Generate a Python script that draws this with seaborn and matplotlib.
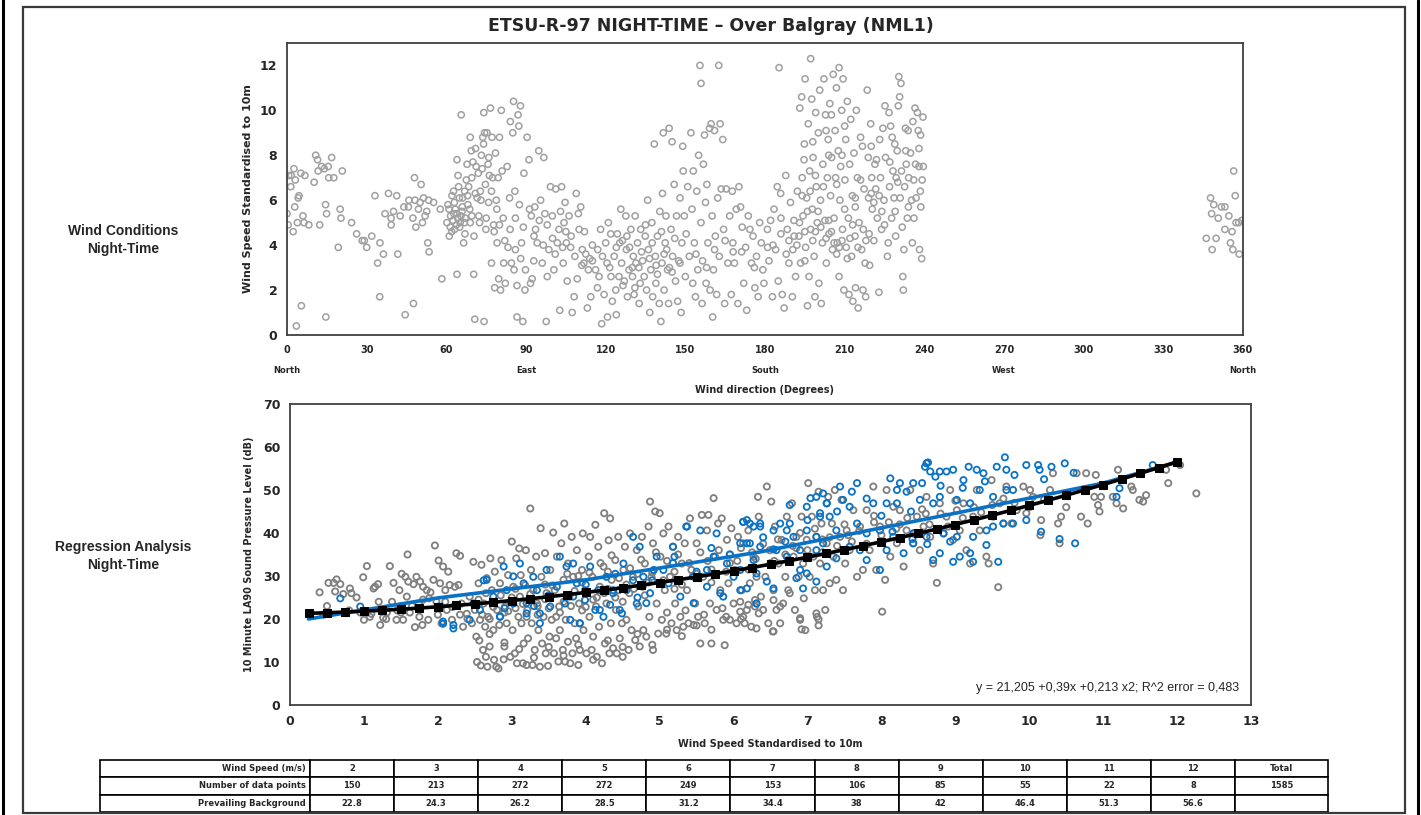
import numpy as np
import pandas as pd
import seaborn as sns
import matplotlib
matplotlib.use("Agg")
import matplotlib.pyplot as plt
from matplotlib.patches import Rectangle
from matplotlib.lines import Line2D

# ---- top chart: wind direction (deg) vs wind speed (m/s)
wc_north = [(0, 5.4), (0.4, 4.9), (0.6, 7.1), (1.6, 7.1), (1.4, 6.6), (2.3, 4.6), (2.6, 7.4), (3.1, 6.9),
            (2.9, 5.7), (3.5, 0.4), (3.9, 5.0), (4.5, 6.2), (4.2, 6.1), (5.2, 7.2), (5.4, 1.3), (6.0, 5.3),
            (6.7, 7.1), (6.4, 5.0), (8.2, 4.9), (10.2, 6.8), (10.8, 8.0), (11.5, 7.8), (11.7, 7.3), (12.3, 4.9),
            (13, 7.5), (14, 7.4), (14.5, 5.8), (14.9, 5.4), (14.6, 0.8), (15.5, 7.5), (15.7, 7.0), (16.8, 7.9),
            (17.6, 7.0), (19.3, 3.9), (20, 5.6), (20.3, 5.2), (20.8, 7.3), (24.3, 5.0), (26.2, 4.5), (28.3, 4.2),
            (29.1, 4.2), (30, 3.9), (31.9, 4.4), (33.1, 6.2), (34.1, 3.2), (34.9, 1.7), (35, 4.1), (36.3, 3.6),
            (36.9, 5.4), (38.2, 6.3), (39.2, 5.2), (39.2, 4.9), (40.1, 5.5), (41.3, 6.2), (41.7, 3.6), (42.6, 5.3),
            (44.5, 0.9), (44, 5.7), (45.7, 5.7), (45.9, 6.0), (47.6, 1.4), (47.4, 5.2), (48, 7.0), (48.2, 6.0),
            (48.5, 4.8), (49.5, 5.6), (50.1, 5.9), (50.5, 6.7), (51, 5.0), (51.4, 6.1), (52, 5.3), (52.6, 5.5),
            (53.3, 6.0), (53, 4.1), (53.5, 3.7), (55.2, 5.9), (57.7, 5.6), (58.3, 2.5)]
wc_east = [(60.2, 5.0), (60.6, 5.8), (61.1, 4.4), (61.6, 5.3), (62.1, 6.2), (62.7, 6.4), (63.1, 4.7), (63.4, 5.6),
           (64, 2.7), (64, 7.8), (64.4, 7.1), (64.6, 6.6), (64.9, 6.1), (65.2, 5.0), (65.6, 9.8), (65.9, 5.5),
           (66.1, 6.1), (66.5, 4.1), (66.9, 6.4), (67.1, 5.2), (67.8, 7.6), (68.1, 5.8), (68.4, 6.6), (69, 8.8),
           (69.4, 8.2), (69.6, 7.0), (69.6, 5.3), (70.3, 2.7), (70.4, 4.4), (70.7, 0.7), (71.2, 7.5), (71.6, 6.1),
           (72.2, 5.3), (72.8, 6.4), (73.2, 8.0), (73.7, 8.8), (74.1, 9.9), (74.2, 0.6), (74.4, 9.0), (74.7, 6.7),
           (74.9, 4.7), (75.3, 9.0), (75.7, 7.6), (75.9, 5.9), (76.6, 10.1), (77, 3.2), (77.2, 8.8), (77.4, 7.0),
           (77.8, 4.9), (78.2, 2.1), (78.5, 8.1), (78.8, 6.0), (79.1, 4.1), (79.7, 2.5), (80, 8.8), (80.4, 2.0),
           (80.7, 10.0), (81, 7.3), (81.4, 5.2), (81.6, 3.2), (82.2, 2.3), (82.9, 7.5), (83.2, 3.9), (83.8, 6.1),
           (84.1, 9.5), (84.5, 3.2), (85, 9.0), (85.3, 10.4), (85.5, 2.9), (85.8, 6.4), (86, 3.8), (86.6, 2.2),
           (86.6, 0.8), (87, 9.8), (87.3, 9.3), (87.5, 5.8), (87.9, 10.2), (88.3, 4.1), (88.8, 0.6), (89.2, 7.2),
           (89.6, 2.0), (89.8, 2.9), (61.5, 4.8), (62.5, 5.1), (63.8, 4.9), (65.5, 5.3), (66.8, 5.0), (68.8, 5.6),
           (62.8, 5.4), (64.3, 5.2), (67.5, 6.9), (70.9, 6.3), (72.5, 5.0), (73.5, 7.4), (76.2, 7.1), (79.5, 7.0),
           (61.0, 5.6), (62.0, 4.6), (63.0, 5.9), (64.0, 5.4), (65.0, 4.8), (66.0, 5.7), (67.0, 4.5), (68.0, 6.2),
           (69.0, 5.0), (70.0, 7.7), (71.0, 8.3), (72.0, 7.2), (73.0, 6.0), (74.0, 8.5), (75.0, 5.2), (76.0, 7.9),
           (77.0, 6.4), (78.0, 4.6), (79.0, 5.6), (80.0, 4.9), (82.0, 4.2), (84.0, 4.7), (86.0, 5.2), (88.0, 3.4),
           (89.0, 4.8)]
wc_southeast = [(90.4, 8.8), (91.1, 7.8), (91.3, 5.6), (91.7, 2.3), (92.3, 2.5), (92.9, 3.3), (93.3, 5.7),
                (93.6, 4.7), (94.2, 4.1), (94.8, 8.2), (95.5, 6.0), (96.1, 3.2), (96.7, 7.9), (97.1, 5.4),
                (97.6, 0.6), (98, 2.6), (98.6, 3.8), (99.2, 6.6), (99.9, 5.3), (100.5, 2.9), (101.2, 6.5),
                (101.8, 4.1), (102.4, 4.7), (102.7, 1.1), (103, 5.5), (103.4, 6.6), (104, 3.2), (104.3, 5.0),
                (104.7, 5.9), (105.2, 4.1), (105.5, 2.4), (106.2, 5.3), (106.8, 3.9), (107.4, 1.0), (108.1, 1.7),
                (108.4, 3.5), (108.9, 6.3), (109.3, 2.5), (109.7, 5.4), (110, 4.7), (110.6, 5.7), (111.2, 3.8),
                (111.8, 3.2), (112.5, 3.6), (113.1, 1.2), (113.5, 2.9), (114.4, 1.7), (115, 3.3), (116.2, 2.9),
                (116.9, 2.1), (117.5, 2.6), (118.1, 4.7), (118.5, 0.5), (118.8, 3.5), (119.4, 1.8), (120, 4.1),
                (120.7, 0.8), (121, 5.0), (121.5, 3.0), (121.9, 4.5), (122.5, 1.5), (123.2, 3.5), (123.8, 2.0),
                (124, 0.9), (124.4, 4.5), (125, 2.6), (125.7, 5.6), (126, 3.2), (126.3, 4.2), (127, 2.4),
                (127.6, 5.3), (127.8, 3.8), (128.2, 1.7), (128.8, 2.9), (129.5, 4.7), (130.1, 2.6), (130.4, 3.5),
                (130.7, 1.8), (131.1, 5.3), (131.4, 3.2), (132, 4.1), (132.6, 1.4), (133, 2.3), (133.2, 4.7),
                (133.9, 3.3), (134.5, 2.6), (134.9, 4.4), (135.4, 2.0), (135.8, 6.0), (136.1, 3.8), (136.6, 1.0),
                (137, 2.9), (137.4, 5.0), (137.7, 1.7), (138.3, 8.5), (138.7, 3.5), (138.9, 2.3), (139.5, 4.4),
                (140.2, 1.4), (140.4, 5.5), (140.8, 0.6), (141.2, 3.2), (141.4, 6.3), (141.7, 9.0), (142, 2.0),
                (142.4, 4.1), (142.7, 5.3), (143.3, 2.9), (143.7, 1.4), (143.9, 9.2), (144.6, 4.7), (145, 8.6),
                (145.2, 3.5), (145.8, 6.7), (146.3, 2.4), (146.7, 5.3), (147.1, 1.5), (147.5, 3.3), (148, 6.1),
                (148.4, 1.0), (148.7, 4.1), (149, 8.4), (149.2, 7.3), (149.6, 5.3), (93.0, 4.4), (96.5, 4.0),
                (100.0, 4.3), (103.8, 3.9), (107.0, 4.4), (111.0, 3.1), (114.0, 3.4), (125.3, 4.1), (129.0, 3.9),
                (132.5, 3.0), (136.5, 3.4), (139.0, 3.1), (142.0, 3.6), (144.0, 3.0), (120.5, 3.2), (122, 2.6),
                (124, 3.9), (126.5, 2.2), (128, 4.4), (130, 3.0), (131, 2.1), (133.5, 3.7), (135, 4.9),
                (137.5, 4.1), (139.5, 2.7), (141, 4.6), (143, 3.8), (145, 2.8), (146, 4.3), (148, 3.2), (112, 4.6),
                (115, 4.0), (117, 3.8), (105, 4.6), (101, 3.6), (98, 4.9), (95, 5.1), (92, 5.3)]
wc_south = [(150, 2.6), (150.3, 4.5), (150.9, 6.6), (151.5, 3.5), (152.1, 9.0), (152.5, 5.6), (152.8, 2.3),
            (153, 7.3), (153.4, 4.1), (153.8, 1.7), (154.3, 6.4), (154.7, 2.9), (155, 8.0), (155.5, 12.0),
            (155.9, 11.2), (155.9, 5.0), (156.3, 1.4), (156.5, 3.3), (156.8, 7.6), (157.2, 8.9), (157.6, 5.9),
            (157.8, 2.3), (158.1, 6.7), (158.5, 4.1), (159.1, 9.2), (159.3, 2.0), (159.7, 9.4), (160.1, 5.3),
            (160.3, 0.8), (160.6, 2.9), (161, 9.1), (161.3, 4.4), (161.8, 1.8), (162.2, 6.1), (162.6, 12.0),
            (162.8, 3.5), (163.1, 9.4), (163.5, 6.5), (164.1, 8.7), (164.4, 4.7), (164.8, 1.4), (165.4, 6.5),
            (166, 3.2), (166.7, 5.3), (167.3, 1.8), (167.7, 6.4), (167.9, 4.1), (168.5, 3.2), (169.2, 5.6),
            (169.8, 1.4), (170.2, 6.6), (170.8, 5.7), (171.4, 4.8), (171.2, 3.7), (172.7, 3.9), (172, 2.3),
            (173.1, 1.1), (173.7, 5.3), (174.3, 4.7), (174.9, 3.2), (175.5, 4.4), (176.2, 2.1), (176.8, 3.5),
            (177.4, 1.7), (178, 5.0), (178.6, 4.1), (179.2, 2.9), (179.6, 2.3), (180.9, 4.7), (181.5, 3.3),
            (182.1, 5.1), (182.8, 1.7), (183.4, 5.6), (184, 3.8), (184.6, 6.6), (185, 2.4), (185.3, 11.9),
            (185.9, 6.3), (186.5, 1.8), (187.2, 1.2), (187.8, 7.1), (188.4, 4.7), (189, 3.2), (189.6, 5.9),
            (154.0, 3.6), (158.0, 3.0), (161.0, 3.8), (165.0, 4.2), (168.0, 3.7), (176.0, 3.0), (181.0, 3.9),
            (186.0, 4.5), (188.0, 3.6), (189.0, 4.2), (186.0, 5.2), (183.0, 4.0)]
wc_southwest = [(190.3, 1.7), (190.5, 3.8), (190.9, 5.1), (191.5, 2.6), (192.2, 6.4), (192.8, 4.4), (193.1, 10.1),
                (193.4, 3.2), (193.8, 10.6), (194, 7.0), (194.3, 5.3), (194.7, 7.8), (194.8, 8.5), (195.1, 11.4),
                (195.3, 3.9), (195.7, 6.1), (196, 1.3), (196.3, 9.4), (196.6, 2.6), (196.8, 7.3), (197.2, 12.3),
                (197.2, 4.7), (197.6, 10.5), (197.8, 5.6), (198.1, 7.9), (198.5, 3.5), (198.8, 1.7), (199.1, 9.9),
                (199.3, 6.6), (199.7, 5.0), (200.1, 9.0), (200.3, 2.3), (200.6, 10.9), (200.9, 6.0), (201.2, 1.4),
                (201.6, 4.1), (201.8, 7.6), (202.2, 11.4), (202.6, 5.1), (202.8, 9.8), (203.1, 3.2), (203.5, 7.0),
                (203.8, 8.7), (204.1, 4.5), (204.4, 10.3), (204.7, 6.2), (205.1, 7.9), (205.4, 3.8), (205.7, 11.6),
                (206, 5.2), (206.4, 9.1), (206.6, 7.0), (206.9, 11.0), (207.2, 4.1), (207.6, 8.2), (207.9, 11.9),
                (207.9, 2.6), (208.2, 6.0), (208.5, 7.5), (208.9, 10.0), (209.2, 4.7), (209.4, 11.4), (209.7, 2.0),
                (210.1, 6.9), (210.4, 8.7), (210.6, 3.9), (211, 10.4), (211.4, 5.2), (211.6, 1.8), (211.9, 7.6),
                (212.3, 9.6), (212.6, 3.5), (212.9, 6.2), (213.1, 1.5), (213.5, 8.1), (213.9, 4.4), (214.1, 2.1),
                (214.4, 10.0), (214.8, 7.0), (215.1, 1.2), (215.4, 5.0), (216, 8.8), (216.4, 3.8), (216.7, 8.4),
                (216.9, 2.0), (217.3, 6.5), (217.7, 3.2), (217.9, 1.7), (218.5, 10.9), (218.9, 7.9), (219.2, 4.5),
                (219.4, 3.1), (219.8, 9.4), (220.2, 7.0), (220.4, 5.6), (221, 4.2), (221.4, 7.6), (221.7, 6.5),
                (222.3, 5.2), (222.9, 1.9), (223.2, 8.7), (223.5, 7.0), (223.9, 4.7), (224.4, 9.2), (224.8, 6.0),
                (225.2, 10.2), (225.4, 7.9), (226.1, 3.5), (226.4, 4.1), (226.7, 9.9), (226.9, 6.6), (227.3, 9.3),
                (227.7, 5.2), (227.9, 8.8), (228.2, 7.3), (228.6, 6.1), (228.9, 8.5), (229.2, 4.4), (229.4, 7.0),
                (229.8, 8.2), (230.2, 10.2), (230.4, 11.5), (230.7, 10.6), (230.9, 6.1), (231.2, 11.2), (231.4, 7.3),
                (231.7, 4.8), (231.9, 2.6), (232.1, 2.0), (232.3, 3.8), (232.6, 6.6), (232.9, 9.2), (233.2, 7.6),
                (233.6, 5.2), (233.9, 9.1), (234.1, 7.0), (234.8, 8.1), (235.2, 6.0), (235.5, 4.1), (235.7, 9.5),
                (236.1, 5.2), (236.5, 10.1), (236.7, 7.6), (236.9, 6.1), (237.4, 9.9), (237.7, 9.1), (238, 7.5),
                (238.2, 3.8), (238.5, 6.4), (238.6, 8.9), (238.7, 5.7), (239, 3.4), (239.2, 6.9), (239.5, 9.7),
                (239.6, 7.5), (192.0, 4.0), (195.0, 4.6), (198.0, 4.2), (201.0, 4.8), (203.0, 4.3), (205.0, 4.6),
                (207.0, 3.6), (209.0, 4.2), (211.0, 3.4), (213.0, 4.9), (215.0, 3.9), (218.0, 4.2), (220.0, 6.3),
                (224.0, 5.5), (196.0, 5.5), (199.0, 7.1), (204.0, 8.0), (209.0, 8.0), (214.0, 6.1), (191, 4.4),
                (193, 5.0), (195, 3.3), (197, 6.4), (199, 4.6), (200, 5.5), (202, 6.6), (204, 5.1), (205, 9.8),
                (206, 4.1), (207, 6.7), (208, 3.9), (210, 5.6), (212, 4.3), (214, 5.7), (216, 6.9), (217, 4.7),
                (219, 6.1), (221, 5.9), (222, 7.8), (223, 6.2), (225, 4.9), (227, 7.7), (229, 5.5), (230, 6.8),
                (233, 8.2), (234, 5.7), (236, 6.9), (238, 8.3), (220, 8.4), (210, 9.3), (203, 9.1), (198, 8.6),
                (194, 6.2)]
wc_north_west = [(346.2, 4.3), (347.8, 6.1), (348.2, 5.4), (348.4, 3.8), (349, 5.8), (349.9, 4.3), (350.7, 5.2),
                 (351.9, 5.7), (353.2, 5.7), (353.2, 4.7), (354.7, 5.3), (355.3, 4.1), (355.9, 4.6), (356.2, 3.8),
                 (356.5, 7.3), (357.1, 6.2), (357.4, 5.0), (358.4, 5.0), (358.6, 3.6), (359.6, 5.1)]

# ---- bottom chart: wind speed (m/s) vs LA90 (dB)
la90_grey_low = [(0.40, 26.2), (0.52, 28.4), (0.59, 28.4), (0.63, 29.2), (0.68, 28.1), (0.61, 26.4), (0.72, 25.8),
                 (0.81, 27.1), (0.83, 26.0), (0.99, 29.7), (1.04, 32.3), (1.00, 19.8), (1.08, 20.5), (1.13, 27.1),
                 (1.15, 27.5), (1.19, 28.1), (1.22, 18.6), (1.26, 20.3), (1.31, 21.5), (1.35, 32.3), (1.38, 24.0),
                 (1.40, 28.4), (1.44, 19.8), (1.48, 26.7), (1.49, 22.9), (1.51, 30.5), (1.53, 19.8), (1.56, 29.8),
                 (1.58, 25.2), (1.59, 35.0), (1.60, 28.7), (1.62, 21.5), (1.67, 28.1), (1.69, 18.1), (1.71, 29.8),
                 (1.74, 23.6), (1.76, 28.7), (1.79, 18.6), (1.80, 27.5), (1.85, 26.7), (1.87, 19.8), (1.88, 24.8),
                 (1.90, 26.2), (1.94, 29.1), (1.96, 37.1), (1.98, 24.0), (2.01, 33.6), (2.03, 28.3), (2.05, 19.0),
                 (2.07, 32.2), (2.10, 26.7), (2.12, 22.1), (2.14, 31.0), (2.16, 27.9), (2.19, 19.8), (2.23, 27.5),
                 (2.25, 35.3), (2.28, 27.9), (2.30, 34.7), (2.32, 23.6), (2.34, 18.2), (2.39, 21.2), (2.43, 25.2),
                 (2.46, 19.0), (2.48, 33.3), (0.45, 21.0), (0.80, 22.0), (1.10, 21.2), (1.45, 22.0), (1.75, 20.5),
                 (2.00, 21.0), (2.20, 22.8), (2.40, 20.0), (1.30, 20.0), (1.65, 23.0), (0.95, 21.5), (1.2, 24.0),
                 (1.5, 21.5), (1.8, 24.5), (2.1, 24.0), (2.3, 21.0), (0.9, 25.0), (0.5, 23.0)]
la90_grey_mid = [(2.50, 22.1), (2.52, 15.9), (2.53, 10.0), (2.55, 28.3), (2.56, 15.0), (2.57, 19.8), (2.58, 9.2),
                 (2.59, 32.6), (2.61, 12.8), (2.62, 23.6), (2.64, 18.2), (2.65, 11.2), (2.66, 29.5), (2.67, 8.9),
                 (2.68, 20.5), (2.70, 13.6), (2.71, 34.1), (2.73, 26.7), (2.75, 17.4), (2.76, 10.5), (2.77, 31.0),
                 (2.79, 8.9), (2.80, 22.1), (2.82, 8.5), (2.83, 18.6), (2.84, 28.3), (2.86, 33.7), (2.89, 10.6),
                 (2.90, 13.6), (2.91, 22.9), (2.93, 19.0), (2.95, 30.2), (2.98, 11.2), (2.98, 24.0), (3.00, 38.0),
                 (3.01, 17.4), (3.02, 27.5), (3.04, 12.0), (3.06, 34.1), (3.07, 9.7), (3.09, 20.5), (3.10, 36.4),
                 (3.11, 25.2), (3.12, 30.2), (3.13, 19.0), (3.15, 9.7), (3.16, 14.3), (3.18, 27.9), (3.19, 36.0),
                 (3.20, 9.3), (3.21, 22.1), (3.22, 15.5), (3.25, 45.7), (3.26, 31.4), (3.27, 19.0), (3.28, 9.3),
                 (3.29, 26.7), (3.31, 12.8), (3.33, 34.5), (3.34, 23.6), (3.36, 17.4), (3.38, 8.9), (3.39, 41.1),
                 (3.40, 29.8), (3.41, 14.3), (3.43, 20.5), (3.45, 35.3), (3.46, 12.0), (3.47, 26.0), (3.49, 9.1),
                 (3.51, 15.9), (3.52, 31.4), (3.54, 19.8), (3.56, 40.1), (3.57, 12.0), (3.58, 26.7), (3.60, 15.5),
                 (3.61, 34.5), (3.63, 10.1), (3.64, 22.9), (3.65, 17.4), (3.67, 37.6), (3.69, 12.8), (3.70, 29.1),
                 (3.71, 42.2), (3.72, 10.1), (3.73, 19.8), (3.76, 32.9), (3.76, 14.7), (3.78, 25.2), (3.79, 9.7),
                 (3.81, 39.1), (3.82, 12.0), (3.83, 29.8), (3.85, 19.0), (3.87, 15.5), (3.88, 36.0), (3.90, 9.3),
                 (3.91, 23.6), (3.92, 12.8), (3.95, 31.4), (3.96, 39.9), (3.97, 17.4), (3.99, 26.7), (4.01, 12.0),
                 (4.04, 34.5), (4.05, 20.5), (4.06, 39.1), (4.08, 12.8), (4.09, 29.8), (4.10, 15.9), (4.13, 41.9),
                 (4.14, 22.9), (4.15, 11.2), (4.17, 36.8), (4.18, 18.2), (4.19, 27.5), (4.22, 9.7), (4.24, 32.2),
                 (4.25, 44.6), (4.26, 14.3), (4.28, 23.6), (4.31, 38.3), (4.32, 12.0), (4.33, 43.4), (4.34, 19.0),
                 (4.35, 29.1), (4.37, 13.2), (4.40, 33.7), (4.41, 22.1), (4.42, 12.0), (4.44, 39.1), (4.45, 26.7),
                 (4.46, 15.5), (4.49, 19.0), (4.50, 11.2), (4.51, 31.4), (4.53, 36.8), (4.55, 19.8), (4.58, 12.8),
                 (4.59, 26.0), (4.60, 39.9), (4.62, 17.4), (4.64, 29.8), (4.67, 15.1), (4.69, 36.0), (4.71, 22.9),
                 (4.73, 13.6), (4.76, 39.1), (4.77, 27.5), (4.78, 17.4), (4.80, 32.9), (4.82, 15.9), (4.85, 41.5),
                 (4.86, 20.5), (4.87, 47.3), (4.89, 29.8), (4.91, 12.8), (4.91, 37.6), (4.94, 45.0), (4.96, 23.6),
                 (4.98, 16.6), (2.60, 21.0), (2.70, 20.0), (2.90, 21.5), (3.05, 22.5), (3.20, 20.5), (3.35, 21.0),
                 (3.50, 22.5), (3.65, 21.5), (3.80, 23.0), (3.95, 22.0), (4.10, 24.5), (4.25, 26.0), (4.40, 25.0),
                 (4.55, 28.0), (4.70, 30.5), (4.85, 28.5), (3.00, 25.0), (3.45, 28.0), (3.90, 30.0), (4.30, 31.0),
                 (2.55, 24.5), (2.65, 26.0), (2.75, 22.8), (2.85, 25.5), (2.95, 21.8), (3.05, 27.0), (3.15, 23.5),
                 (3.25, 25.8), (3.35, 23.0), (3.45, 24.6), (3.55, 27.8), (3.6, 20.5), (3.7, 24.0), (3.75, 30.5),
                 (3.85, 26.5), (3.95, 28.5), (4.0, 22.8), (4.05, 30.8), (4.15, 25.0), (4.2, 33.0), (4.3, 27.0),
                 (4.35, 34.8), (4.45, 29.5), (4.5, 24.0), (4.6, 31.8), (4.65, 27.0), (4.75, 33.8), (4.8, 25.5),
                 (4.9, 30.8), (4.95, 35.5), (3.1, 13.0), (3.3, 11.0), (3.5, 13.5), (3.7, 11.5), (3.9, 14.0),
                 (4.1, 10.5), (4.3, 15.0), (4.5, 13.5), (4.7, 16.5), (4.9, 14.0), (2.7, 16.5), (2.9, 14.5)]
la90_grey_high = [(5.00, 44.6), (5.01, 34.5), (5.03, 19.8), (5.05, 39.9), (5.07, 26.7), (5.09, 16.6), (5.12, 41.5),
                  (5.14, 29.8), (5.16, 19.0), (5.18, 36.8), (5.21, 23.6), (5.23, 17.4), (5.25, 39.1), (5.28, 20.5),
                  (5.30, 32.9), (5.32, 18.2), (5.34, 37.6), (5.37, 26.7), (5.39, 19.0), (5.41, 43.4), (5.43, 31.4),
                  (5.46, 18.6), (5.48, 23.6), (5.50, 37.6), (5.52, 20.5), (5.55, 14.3), (5.57, 44.2), (5.59, 29.8),
                  (5.61, 19.0), (5.64, 40.6), (5.66, 44.2), (5.68, 23.6), (5.70, 14.3), (5.73, 48.1), (5.75, 34.5),
                  (5.77, 22.1), (5.79, 42.2), (5.82, 26.7), (5.84, 43.4), (5.86, 19.8), (5.88, 13.9), (5.91, 38.4),
                  (5.93, 28.3), (5.95, 19.8), (5.97, 41.1), (6.00, 23.6), (6.02, 31.4), (6.04, 19.0), (6.06, 39.1),
                  (6.09, 21.7), (6.11, 26.7), (6.13, 37.6), (6.15, 19.0), (6.18, 22.1), (6.20, 40.6), (6.22, 28.3),
                  (6.24, 18.2), (6.27, 34.5), (6.29, 22.9), (6.31, 29.8), (6.33, 48.4), (6.34, 43.8), (6.37, 25.2),
                  (6.40, 22.1), (6.43, 29.8), (6.45, 50.8), (6.47, 19.0), (6.49, 36.0), (6.51, 47.3), (6.53, 17.1),
                  (6.54, 26.7), (6.56, 41.5), (6.58, 22.1), (6.61, 32.9), (6.63, 19.0), (6.65, 38.4), (6.67, 23.6),
                  (6.70, 29.8), (6.72, 43.8), (6.74, 26.7), (6.76, 26.0), (6.79, 46.9), (6.81, 34.5), (6.83, 22.1),
                  (6.85, 39.1), (6.88, 29.8), (6.90, 19.8), (6.92, 43.8), (6.94, 32.9), (6.95, 24.8), (6.97, 17.4),
                  (6.99, 38.4), (7.01, 51.6), (7.03, 29.8), (7.06, 43.8), (7.08, 34.5), (7.10, 26.7), (7.12, 39.1),
                  (7.13, 20.5), (7.15, 49.6), (7.17, 32.9), (7.19, 42.2), (7.21, 26.7), (7.24, 22.1), (7.26, 37.6),
                  (7.28, 48.4), (7.30, 28.3), (7.33, 42.2), (7.35, 34.5), (7.37, 50.0), (7.39, 29.1), (7.44, 39.1),
                  (7.46, 47.7), (7.48, 26.7), (7.51, 32.9), (7.53, 40.6), (7.57, 36.0), (7.62, 45.3), (7.67, 29.8),
                  (7.71, 41.5), (7.75, 31.4), (7.80, 45.3), (7.84, 36.0), (7.89, 50.8), (7.93, 31.4), (7.98, 41.5),
                  (8.01, 21.7), (8.05, 29.1), (8.07, 50.0), (8.12, 34.5), (8.16, 46.1), (8.21, 37.6), (8.25, 45.3),
                  (8.30, 32.2), (8.34, 40.6), (8.39, 50.0), (8.43, 37.6), (8.48, 43.8), (8.52, 36.0), (8.57, 41.5),
                  (8.61, 48.4), (8.66, 39.1), (8.70, 32.9), (8.75, 28.4), (8.79, 46.9), (8.84, 39.9), (8.88, 43.8),
                  (8.93, 50.0), (8.97, 38.4), (9.02, 45.3), (9.06, 40.6), (9.11, 46.9), (9.15, 36.0), (9.20, 32.9),
                  (9.24, 43.8), (9.29, 50.0), (9.33, 40.6), (9.42, 34.5), (9.45, 32.9), (9.49, 52.3), (9.51, 43.8),
                  (9.58, 27.4), (9.60, 46.9), (9.65, 42.2), (9.69, 50.8), (9.76, 42.2), (9.83, 45.3), (9.92, 50.8),
                  (9.96, 44.6), (10.01, 50.0), (10.05, 48.4), (10.15, 39.5), (10.16, 43.0), (10.28, 50.0),
                  (10.32, 53.9), (10.39, 42.2), (10.41, 37.6), (10.43, 43.8), (10.52, 49.2), (10.64, 53.9),
                  (10.70, 43.8), (10.77, 53.9), (10.79, 42.2), (10.88, 48.4), (10.90, 53.5), (10.93, 46.5),
                  (10.95, 45.0), (10.97, 48.4), (11.13, 48.4), (11.18, 46.9), (11.20, 54.7), (11.27, 45.7),
                  (11.38, 50.8), (11.40, 50.0), (11.49, 47.7), (11.54, 47.3), (11.58, 48.8), (11.85, 54.7),
                  (11.88, 51.6), (12.04, 55.8), (12.26, 49.2), (6.13, 20.5), (6.09, 24.0), (6.31, 23.6),
                  (6.34, 21.3), (6.54, 24.4), (6.63, 22.9), (6.31, 17.8), (6.54, 17.1), (6.90, 20.2), (6.92, 17.6),
                  (7.15, 19.9), (7.15, 18.5), (7.12, 21.3), (6.29, 24.4), (6.20, 23.3), (5.20, 27.0), (5.45, 30.0),
                  (5.70, 31.5), (5.95, 33.0), (6.25, 35.5), (6.55, 33.5), (6.85, 36.5), (7.20, 38.5), (7.55, 39.5),
                  (7.90, 42.5), (8.25, 42.0), (8.60, 44.5), (5.10, 21.5), (5.35, 22.0), (5.60, 21.0), (5.85, 22.5),
                  (5.05, 29.0), (5.1, 33.5), (5.2, 31.0), (5.25, 35.0), (5.3, 28.0), (5.4, 33.0), (5.5, 30.5),
                  (5.55, 35.5), (5.65, 33.5), (5.7, 28.5), (5.8, 36.0), (5.9, 31.0), (5.95, 35.0), (6.05, 33.5),
                  (6.1, 36.5), (6.2, 31.5), (6.3, 34.0), (6.4, 37.5), (6.5, 33.0), (6.6, 38.5), (6.7, 35.0),
                  (6.8, 37.0), (6.9, 40.0), (7.0, 36.0), (7.1, 41.0), (7.2, 35.5), (7.3, 39.0), (7.4, 37.0),
                  (7.5, 42.0), (7.6, 38.0), (7.7, 40.5), (7.8, 37.5), (7.9, 44.0), (8.0, 39.5), (8.1, 42.5),
                  (8.2, 41.0), (8.35, 43.5), (8.45, 40.0), (8.55, 45.5), (8.65, 42.0), (8.8, 44.5), (8.9, 41.5),
                  (9.0, 47.5), (9.1, 43.5), (9.25, 46.0), (9.35, 44.8), (9.5, 46.5), (9.65, 48.0), (9.8, 47.0),
                  (10.0, 46.0), (10.2, 47.8), (10.5, 46.0), (5.1, 17.5), (5.3, 16.0), (5.5, 18.5), (5.7, 17.5),
                  (5.9, 20.5), (6.1, 20.0)]
la90_blue = [(0.68, 24.8), (0.95, 22.9), (2.01, 22.9), (2.07, 19.4), (2.21, 18.6), (2.43, 19.8), (2.48, 23.6),
             (2.57, 22.1), (2.66, 29.1), (2.75, 25.2), (2.84, 20.5), (2.89, 32.2), (2.93, 26.7), (3.02, 23.6),
             (3.11, 32.9), (3.16, 28.3), (3.20, 21.3), (3.29, 29.8), (3.34, 26.7), (3.38, 19.0), (3.47, 31.4),
             (3.52, 22.9), (3.61, 27.5), (3.65, 34.5), (3.72, 23.6), (3.79, 19.8), (3.83, 32.9), (3.88, 28.3),
             (3.92, 19.0), (3.99, 24.4), (4.06, 32.2), (4.13, 22.1), (4.17, 26.7), (4.24, 20.5), (4.28, 29.8),
             (4.33, 23.3), (4.37, 26.0), (4.46, 22.1), (4.51, 32.9), (4.55, 26.7), (4.64, 39.1), (4.69, 23.6),
             (4.73, 36.8), (4.78, 29.8), (4.87, 26.0), (4.96, 34.5), (5.05, 31.4), (5.12, 28.3), (5.18, 36.8),
             (5.28, 25.2), (5.37, 41.5), (5.46, 29.8), (5.55, 40.6), (5.64, 27.5), (5.73, 34.5), (5.82, 26.0),
             (5.91, 32.9), (6.00, 29.8), (6.09, 26.7), (6.13, 42.6), (6.18, 37.6), (6.27, 33.7), (6.31, 23.6),
             (6.22, 42.2), (2.07, 18.9), (2.21, 17.8), (2.62, 29.0), (2.84, 20.6), (3.02, 29.9), (3.20, 23.7),
             (3.38, 21.3), (3.74, 32.2), (3.83, 25.2), (3.92, 19.0), (4.19, 22.1), (4.37, 26.7), (4.49, 21.3),
             (4.64, 29.0), (4.82, 23.7), (4.92, 31.4), (5.18, 33.0), (5.36, 41.5), (5.46, 23.7), (5.64, 31.4),
             (5.77, 39.9), (5.86, 25.2), (6.09, 37.6), (6.18, 43.0), (6.36, 41.5), (6.54, 36.2), (6.76, 42.2),
             (6.90, 31.4), (6.99, 46.1), (7.17, 44.6), (7.26, 46.9), (8.61, 56.2), (8.63, 56.4), (8.59, 55.4),
             (8.66, 54.3), (8.73, 53.1), (8.79, 54.3), (8.88, 54.3), (8.97, 54.7), (9.18, 55.4), (9.11, 52.3),
             (9.29, 54.7), (9.38, 53.9), (9.56, 55.4), (9.67, 57.6), (9.69, 54.7), (9.96, 55.8), (10.12, 55.8),
             (10.14, 54.7), (10.30, 55.4), (10.48, 56.2), (10.62, 37.6), (10.41, 38.6), (10.16, 40.3),
             (11.22, 50.4), (11.67, 55.8), (11.18, 48.4), (8.12, 52.7), (8.25, 51.6), (8.43, 51.6), (8.55, 51.6),
             (8.21, 50.0), (8.34, 49.6), (7.67, 51.6), (7.60, 49.6), (7.44, 50.8), (7.21, 49.2), (7.04, 48.1),
             (7.12, 48.4), (7.26, 46.9), (7.30, 43.8), (7.17, 43.8), (7.48, 47.7), (7.57, 46.1), (7.89, 46.9),
             (8.07, 46.9), (8.21, 46.9), (8.52, 47.7), (8.70, 46.9), (8.79, 48.4), (9.02, 47.7), (9.20, 46.9),
             (9.33, 50.0), (9.51, 48.4), (9.69, 50.0), (9.78, 50.0), (6.76, 46.5), (6.63, 42.2), (6.54, 40.6),
             (6.36, 42.2), (6.13, 42.6), (6.27, 41.5), (6.72, 40.6), (6.99, 40.6), (6.81, 39.1), (7.12, 39.1),
             (7.39, 40.6), (7.67, 42.2), (7.80, 39.9), (7.98, 40.6), (8.16, 39.1), (8.43, 39.9), (8.61, 39.1),
             (8.84, 39.9), (9.02, 39.1), (9.24, 39.1), (9.42, 40.6), (9.51, 41.5), (9.65, 42.2), (9.78, 42.2),
             (9.96, 43.0), (8.43, 37.6), (8.30, 35.3), (8.79, 35.3), (8.93, 38.0), (9.06, 34.5), (9.20, 35.3),
             (8.97, 33.3), (9.24, 33.3), (9.42, 37.2), (9.58, 33.3), (8.70, 33.7), (7.98, 31.4), (7.80, 33.7),
             (7.39, 34.1), (7.26, 32.2), (7.12, 28.7), (6.99, 30.6), (6.94, 27.1), (6.85, 29.5), (6.54, 27.1),
             (6.45, 28.7), (6.31, 30.6), (6.18, 27.1), (6.09, 31.4), (6.72, 34.5), (6.58, 36.0), (6.36, 36.8),
             (6.22, 37.6), (6.90, 36.0), (7.12, 36.0), (7.21, 37.6), (7.57, 36.8), (7.71, 36.0), (8.07, 36.0),
             (8.42, 38.6), (8.62, 37.4), (8.15, 40.3), (3.5, 25.5), (4.0, 28.0), (4.4, 30.5), (4.9, 29.0),
             (5.2, 34.5), (5.5, 31.0), (5.7, 36.5), (5.95, 35.0), (6.4, 39.0), (6.7, 38.0), (7.0, 43.0),
             (7.4, 45.0), (7.8, 48.0), (8.0, 44.0), (8.4, 45.0), (8.8, 51.0), (9.1, 50.5), (9.4, 52.0),
             (9.8, 53.5), (10.2, 52.5), (10.6, 54.0), (2.9, 22.5), (3.3, 23.0), (4.7, 25.0)]

# fitted lines
fit_speed = [0.25, 0.5, 0.75, 1.0, 1.25, 1.5, 1.75, 2.0, 2.25, 2.5, 2.75, 3.0, 3.25, 3.5, 3.75, 4.0,
             4.25, 4.5, 4.75, 5.0, 5.25, 5.5, 5.75, 6.0, 6.25, 6.5, 6.75, 7.0, 7.25, 7.5, 7.75, 8.0,
             8.25, 8.5, 8.75, 9.0, 9.25, 9.5, 9.75, 10.0, 10.25, 10.5, 10.75, 11.0, 11.25, 11.5, 11.75, 12.0]
fit_level = [21.32, 21.45, 21.62, 21.81, 22.03, 22.27, 22.54, 22.84, 23.16, 23.51, 23.89, 24.29, 24.72, 25.18,
             25.66, 26.17, 26.71, 27.27, 27.86, 28.48, 29.12, 29.79, 30.49, 31.21, 31.96, 32.74, 33.54, 34.37,
             35.23, 36.11, 37.02, 37.96, 38.92, 39.91, 40.93, 41.97, 43.04, 44.13, 45.26, 46.41, 47.58, 48.78,
             50.01, 51.27, 52.55, 53.86, 55.19, 56.56]
blue_speed = [0.25, 2.0, 4.0, 6.36, 9.0, 11.0, 12.0]
blue_level = [20.0, 24.9, 29.1, 35.6, 44.6, 51.6, 56.5]

# table
tbl_speeds = ["2", "3", "4", "5", "6", "7", "8", "9", "10", "11", "12"]
tbl_counts = ["150", "213", "272", "272", "249", "153", "106", "85", "55", "22", "8"]
tbl_background = ["22.8", "24.3", "26.2", "28.5", "31.2", "34.4", "38", "42", "46.4", "51.3", "56.6"]
tbl_total = "1585"

dir_labels = [(0, "North"), (90, "East"), (180, "South"), (270, "West"), (360, "North")]

sns.set_style("white")
plt.rcParams["font.family"] = ["DejaVu Sans"]

top_df = pd.DataFrame(wc_north + wc_east + wc_southeast + wc_south + wc_southwest + wc_north_west,
                      columns=["direction", "speed"])
grey_df = pd.DataFrame(la90_grey_low + la90_grey_mid + la90_grey_high, columns=["speed", "la90"])
blue_df = pd.DataFrame(la90_blue, columns=["speed", "la90"])
fit_df = pd.DataFrame({"speed": fit_speed, "la90": fit_level})
bline_df = pd.DataFrame({"speed": blue_speed, "la90": blue_level})

fig = plt.figure(figsize=(14.21, 8.15), dpi=100)
fig.patch.set_facecolor("white")

# page frame
fig.add_artist(Line2D([0.0018, 0.0018], [0, 1], transform=fig.transFigure, color="black", lw=2.2))
fig.add_artist(Line2D([0.9982, 0.9982], [0, 1], transform=fig.transFigure, color="black", lw=2.2))
fig.add_artist(Rectangle((23 / 1421, 2 / 815), (1405 - 23) / 1421, (808 - 2) / 815, transform=fig.transFigure,
                         fill=False, edgecolor="#3a3a3a", lw=1.6))

fig.text(0.5, 0.968, "ETSU-R-97 NIGHT-TIME \u2013 Over Balgray (NML1)", ha="center", va="center",
         fontsize=12.5, fontweight="bold")

# top chart
ax1 = fig.add_axes([0.2020, 0.5890, 0.6727, 0.3583])
sns.scatterplot(data=top_df, x="direction", y="speed", ax=ax1, s=20, facecolor="none",
                edgecolor="#a0a0a0", linewidth=1.1, legend=False)
ax1.set_xlim(0, 360)
ax1.set_ylim(0, 13)
ax1.set_xticks(range(0, 361, 30))
ax1.set_yticks(range(0, 13, 2))
ax1.tick_params(axis="x", labelsize=7, direction="out", length=4, width=1, pad=3)
ax1.tick_params(axis="y", labelsize=9, direction="out", length=4, width=1, pad=3)
for lab in ax1.get_xticklabels() + ax1.get_yticklabels():
    lab.set_fontweight("bold")
ax1.set_xlabel("")
ax1.set_ylabel("Wind Speed Standardised to 10m", fontsize=8, fontweight="bold", labelpad=5)
for sp in ax1.spines.values():
    sp.set_color("#404040")
    sp.set_linewidth(1.3)
for deg, name in dir_labels:
    ax1.text(deg, -0.12, name, transform=ax1.get_xaxis_transform(), ha="center", va="center",
             fontsize=6, fontweight="bold")
ax1.text(0.5, -0.19, "Wind direction (Degrees)", transform=ax1.transAxes, ha="center", va="center",
         fontsize=7, fontweight="bold")

# bottom chart
ax2 = fig.add_axes([0.2041, 0.1350, 0.6763, 0.3693])
sns.scatterplot(data=grey_df, x="speed", y="la90", ax=ax2, s=20, facecolor="none",
                edgecolor="#7f7f7f", linewidth=1.3, legend=False, zorder=2)
sns.scatterplot(data=blue_df, x="speed", y="la90", ax=ax2, s=20, facecolor="none",
                edgecolor="#0a72c6", linewidth=1.3, legend=False, zorder=3)
sns.lineplot(data=bline_df, x="speed", y="la90", ax=ax2, color="#0a72c6", lw=2.6, zorder=4)
sns.lineplot(data=fit_df, x="speed", y="la90", ax=ax2, color="black", lw=2.6, marker="s",
             markersize=6, markeredgecolor="black", zorder=5)
ax2.set_xlim(0, 13)
ax2.set_ylim(0, 70)
ax2.set_xticks(range(0, 14))
ax2.set_yticks(range(0, 71, 10))
ax2.tick_params(axis="both", labelsize=9, direction="out", length=4, width=1, pad=3)
for lab in ax2.get_xticklabels() + ax2.get_yticklabels():
    lab.set_fontweight("bold")
ax2.set_xlabel("Wind Speed Standardised to 10m", fontsize=7, fontweight="bold", labelpad=8)
ax2.set_ylabel("10 Minute LA90 Sound Pressure Level (dB)", fontsize=7, fontweight="bold", labelpad=6)
for sp in ax2.spines.values():
    sp.set_color("#404040")
    sp.set_linewidth(1.3)
ax2.text(0.988, 0.055, "y = 21,205 +0,39x +0,213 x2; R^2 error = 0,483", transform=ax2.transAxes,
         ha="right", va="center", fontsize=9, family=["Liberation Sans", "DejaVu Sans"])

# side captions
fig.text(123 / 1421, 1 - 240 / 815, "Wind Conditions\nNight-Time", ha="center", va="center", fontsize=10,
         fontweight="bold", family=["Liberation Sans", "DejaVu Sans"], linespacing=1.4)
fig.text(123 / 1421, 1 - 556 / 815, "Regression Analysis\nNight-Time", ha="center", va="center", fontsize=10,
         fontweight="bold", family=["Liberation Sans", "DejaVu Sans"], linespacing=1.4)

# summary table
axt = fig.add_axes([100 / 1421, 3 / 815, 1228 / 1421, 52 / 815])
axt.axis("off")
cells = [["Wind Speed (m/s)"] + tbl_speeds + ["Total"],
         ["Number of data points"] + tbl_counts + [tbl_total],
         ["Prevailing Background"] + tbl_background + [""]]
widths = [210 / 1228] + [84.1 / 1228] * 11 + [93 / 1228]
tab = axt.table(cellText=cells, colWidths=widths, bbox=[0, 0, 1, 1], cellLoc="center")
tab.auto_set_font_size(False)
for (r, c), cell in tab.get_celld().items():
    cell.set_linewidth(1.2)
    cell.set_edgecolor("black")
    txt = cell.get_text()
    txt.set_fontsize(6)
    txt.set_fontweight("bold")
    if c == 0:
        txt.set_ha("right")
        cell.PAD = 0.02

fig.savefig("out.png", dpi=100)
